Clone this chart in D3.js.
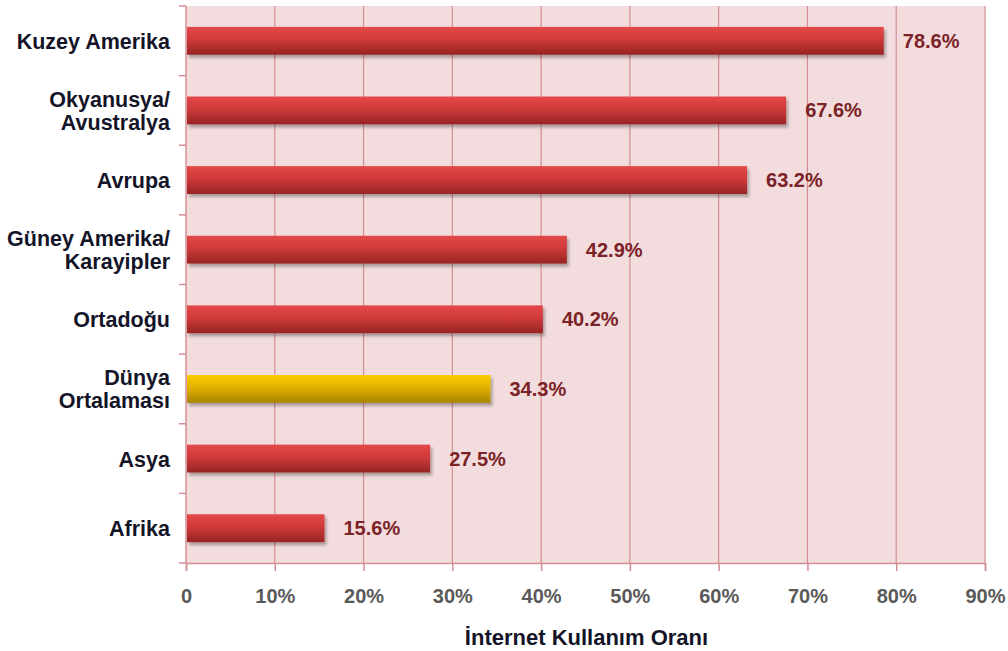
<!DOCTYPE html>
<html>
<head>
<meta charset="utf-8">
<script src="https://cdn.jsdelivr.net/npm/d3@7"></script>
<style>
  body { margin: 0; background: #ffffff; }
  svg { display: block; }
</style>
</head>
<body>
<svg id="chart" width="1008" height="651"></svg>
<script>
const categories = [
  ["Kuzey Amerika"],
  ["Okyanusya/", "Avustralya"],
  ["Avrupa"],
  ["Güney Amerika/", "Karayipler"],
  ["Ortadoğu"],
  ["Dünya", "Ortalaması"],
  ["Asya"],
  ["Afrika"]
];
const values = [78.6, 67.6, 63.2, 42.9, 40.2, 34.3, 27.5, 15.6];
const highlight = [false, false, false, false, false, true, false, false];
const valueLabels = ["78.6%", "67.6%", "63.2%", "42.9%", "40.2%", "34.3%", "27.5%", "15.6%"];
const tickValues = [0, 10, 20, 30, 40, 50, 60, 70, 80, 90];
const tickLabels = ["0", "10%", "20%", "30%", "40%", "50%", "60%", "70%", "80%", "90%"];
const axisTitle = "İnternet Kullanım Oranı";

const svg = d3.select("#chart");
const pLeft = 186, pRight = 985, pTop = 6, pBottom = 563;
const font = "'Liberation Sans', Arial, sans-serif";

const x = d3.scaleLinear().domain([0, 90]).range([pLeft, pRight]);
const keys = categories.map((c, i) => i);
const y = d3.scaleBand().domain(keys).range([pTop, pBottom]).paddingInner(0.6).paddingOuter(0.3);

const defs = svg.append("defs");
const gr = defs.append("linearGradient").attr("id", "gRed").attr("x1", 0).attr("y1", 0).attr("x2", 0).attr("y2", 1);
gr.append("stop").attr("offset", "0%").attr("stop-color", "#e44848");
gr.append("stop").attr("offset", "45%").attr("stop-color", "#cf3a3a");
gr.append("stop").attr("offset", "100%").attr("stop-color", "#972424");
const gy = defs.append("linearGradient").attr("id", "gGold").attr("x1", 0).attr("y1", 0).attr("x2", 0).attr("y2", 1);
gy.append("stop").attr("offset", "0%").attr("stop-color", "#fbcc00");
gy.append("stop").attr("offset", "45%").attr("stop-color", "#e2b100");
gy.append("stop").attr("offset", "100%").attr("stop-color", "#a88300");
const sh = defs.append("filter").attr("id", "shadow").attr("x", "-5%").attr("y", "-30%").attr("width", "115%").attr("height", "180%");
sh.append("feDropShadow").attr("dx", 2).attr("dy", 3).attr("stdDeviation", 1.8)
  .attr("flood-color", "#000").attr("flood-opacity", 0.3);

// plot background
svg.append("rect").attr("x", pLeft).attr("y", pTop).attr("width", pRight - pLeft).attr("height", pBottom - pTop)
  .attr("fill", "#f2dcdd");

const gridColor = "#d48e93";
// gridlines
svg.append("g").selectAll("line").data(tickValues.slice(1)).join("line")
  .attr("x1", d => x(d)).attr("x2", d => x(d))
  .attr("y1", pTop).attr("y2", pBottom)
  .attr("stroke", gridColor).attr("stroke-width", 1.2);

// bottom axis
const xAxis = d3.axisBottom(x).tickValues(tickValues).tickSize(8).tickFormat((d, i) => tickLabels[i]);
const gx = svg.append("g").attr("transform", `translate(0,${pBottom})`).call(xAxis);
gx.select(".domain").attr("stroke", gridColor).attr("stroke-width", 1.5);
gx.selectAll(".tick line").attr("stroke", gridColor).attr("stroke-width", 1.5);
gx.selectAll(".tick text").attr("font-family", font).attr("font-weight", "bold")
  .attr("font-size", 20).attr("fill", "#5a5a5a").attr("y", 40).attr("dy", 0);

// left axis line and ticks at band boundaries
svg.append("line").attr("x1", pLeft).attr("x2", pLeft).attr("y1", pTop).attr("y2", pBottom)
  .attr("stroke", gridColor).attr("stroke-width", 1.5);
const step = y.step();
const bounds = d3.range(categories.length + 1).map(i => pTop + i * step);
svg.append("g").selectAll("line").data(bounds).join("line")
  .attr("x1", pLeft - 7).attr("x2", pLeft)
  .attr("y1", d => d).attr("y2", d => d)
  .attr("stroke", gridColor).attr("stroke-width", 1.5);

// bars
svg.append("g").selectAll("rect").data(values).join("rect")
  .attr("x", x(0) + 1)
  .attr("y", (d, i) => y(i))
  .attr("width", d => x(d) - x(0) - 1)
  .attr("height", y.bandwidth())
  .attr("fill", (d, i) => highlight[i] ? "url(#gGold)" : "url(#gRed)")
  .attr("filter", "url(#shadow)");

// value labels
svg.append("g").selectAll("text").data(values).join("text")
  .attr("x", d => x(d) + 19)
  .attr("y", (d, i) => y(i) + y.bandwidth() / 2 + 7)
  .attr("font-family", font).attr("font-weight", "bold").attr("font-size", 20)
  .attr("fill", "#7b2226")
  .text((d, i) => valueLabels[i]);

// category labels
const cg = svg.append("g");
categories.forEach((lines, i) => {
  const cy = y(i) + y.bandwidth() / 2 + 8;
  const lh = 23;
  const t = cg.append("text").attr("font-family", font).attr("font-weight", "bold")
    .attr("font-size", 21.5).attr("fill", "#141428").attr("text-anchor", "end");
  lines.forEach((ln, j) => {
    t.append("tspan").attr("x", 170)
      .attr("y", cy + (j - (lines.length - 1) / 2) * lh)
      .text(ln);
  });
});

// axis title
svg.append("text").attr("x", (pLeft + pRight) / 2 + 1).attr("y", 645)
  .attr("text-anchor", "middle").attr("font-family", font).attr("font-weight", "bold")
  .attr("font-size", 22).attr("fill", "#141428").text(axisTitle);
</script>
</body>
</html>
